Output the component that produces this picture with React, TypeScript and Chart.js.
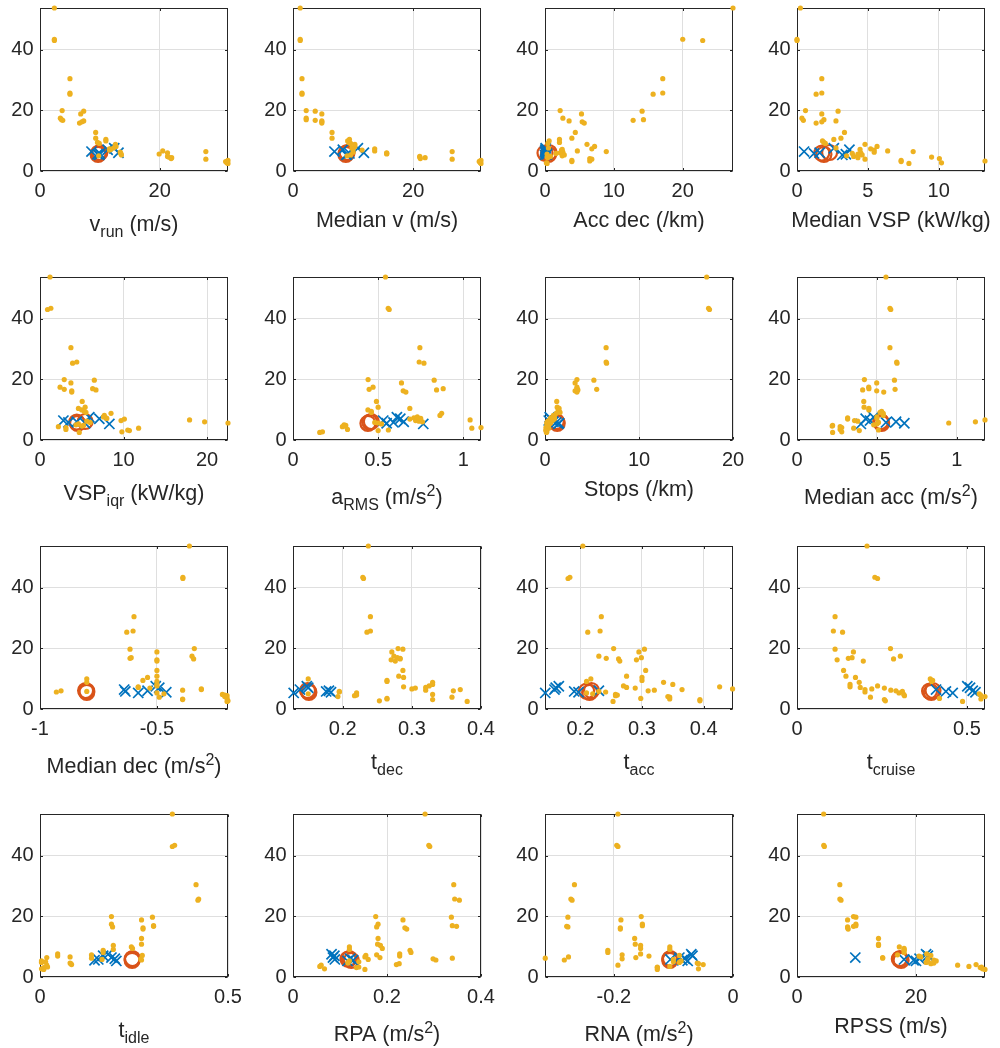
import React, { useEffect, useRef } from "react";
import { Chart, registerables } from "chart.js";
Chart.register(...registerables);

// ---------- data ----------
const Y_ALL = [53.7, 43.4, 43.0, 30.4, 25.7, 25.3, 19.9, 19.7, 18.8, 17.4, 16.7, 16.5, 16.2, 15.8, 12.7, 10.8, 10.4, 9.9, 9.4, 8.8, 8.1, 7.3, 6.9, 6.6, 6.4, 6.2, 6.0, 5.6, 5.3, 4.8, 4.4, 4.1, 3.9, 3.5, 3.1, 2.7, 2.5, 7.6, 5.0, 3.3, 16.9, 9.1, 7.1, 5.8, 4.6];

const X_VRUN = [2.4, 2.4, 2.4, 5.0, 5.0, 5.0, 3.7, 7.3, 6.8, 3.4, 3.8, 7.3, 7.0, 6.6, 9.3, 9.3, 11.0, 11.0, 9.6, 12.6, 12.7, 11.6, 11.6, 20.5, 27.7, 13.4, 21.3, 19.9, 13.6, 21.3, 22.0, 21.9, 27.7, 31.4, 31.0, 31.2, 31.4, 12.3, 9.8, 31.3, 3.6, 9.9, 11.8, 13.5, 21.5];
const X_MEDV = [1.2, 1.2, 1.2, 1.5, 1.5, 1.5, 2.2, 3.7, 4.8, 2.2, 3.7, 4.8, 4.8, 4.8, 6.5, 6.5, 9.4, 9.1, 9.3, 10.3, 10.3, 13.6, 11.5, 13.6, 26.5, 10.0, 15.6, 15.6, 9.6, 21.1, 22.0, 21.2, 26.5, 31.3, 31.0, 31.2, 31.3, 9.8, 9.0, 31.1, 2.2, 9.6, 10.0, 15.6, 21.1];
const X_ACCDEC = [27.3, 20.0, 22.9, 17.1, 17.1, 15.7, 2.2, 14.1, 5.3, 2.6, 12.8, 3.5, 5.4, 5.7, 4.4, 3.9, 2.1, 0.6, 2.1, 6.1, 7.2, 6.8, 2.4, 4.7, 8.9, 2.6, 2.2, 0.3, 2.8, 0.8, 0.4, 6.5, 6.8, 3.9, 3.9, 0.2, 0.3, 0.5, 2.5, 6.5, 14.3, 0.4, 2.5, 1.6, 0.3];
const X_MEDVSP = [0.24, 0.0, 0.0, 1.75, 1.75, 1.35, 0.6, 2.9, 1.75, 0.35, 0.45, 2.75, 1.75, 1.35, 3.35, 3.1, 2.6, 1.8, 1.9, 4.8, 5.65, 5.2, 5.45, 6.4, 8.2, 5.45, 4.5, 4.3, 4.6, 4.0, 4.3, 10.05, 4.8, 7.35, 7.35, 10.2, 7.9, 2.75, 3.5, 13.27, 1.9, 2.0, 4.45, 3.9, 9.5];
const X_VSPIQR = [1.2, 1.3, 0.9, 3.7, 4.4, 3.9, 2.9, 6.5, 3.7, 2.4, 2.9, 6.7, 3.8, 3.8, 5.05, 5.4, 4.6, 5.0, 5.3, 8.5, 7.7, 7.9, 10.1, 17.9, 9.7, 5.6, 19.7, 22.5, 4.6, 5.2, 2.2, 3.1, 11.8, 3.1, 10.7, 9.8, 4.7, 7.6, 4.3, 10.5, 6.3, 5.5, 8.0, 6.0, 5.0];
const X_ARMS = [0.543, 0.559, 0.565, 0.745, 0.741, 0.769, 0.441, 0.829, 0.637, 0.47, 0.447, 0.843, 0.647, 0.663, 0.49, 0.5, 0.686, 0.44, 0.46, 0.873, 0.863, 0.71, 0.686, 1.04, 0.72, 0.74, 0.76, 0.5, 0.52, 0.31, 0.29, 1.104, 1.05, 0.32, 0.5, 0.173, 0.157, 0.73, 0.3, 0.56, 0.882, 0.46, 0.75, 0.48, 0.3];
const X_STOPS = [17.2, 17.4, 17.5, 6.5, 6.5, 6.55, 3.4, 5.2, 3.2, 3.4, 5.5, 3.5, 3.2, 3.4, 1.25, 1.3, 1.5, 1.4, 1.5, 1.2, 0.9, 0.6, 1.0, 0.5, 0.8, 0.3, 0.5, 0.6, 0.2, 0.3, 0.2, 0.1, 0.4, 0.2, 0.1, 0.2, 0.15, 1.0, 0.4, 0.1, 3.4, 1.6, 0.7, 0.2, 0.3];
const X_MEDACC = [0.557, 0.582, 0.587, 0.582, 0.624, 0.626, 0.422, 0.61, 0.499, 0.449, 0.614, 0.411, 0.499, 0.543, 0.418, 0.42, 0.45, 0.45, 0.53, 0.54, 0.54, 0.317, 0.317, 1.177, 0.36, 0.38, 1.117, 0.95, 0.5, 0.223, 0.27, 0.28, 0.355, 0.27, 0.39, 0.28, 0.223, 0.5, 0.48, 0.51, 0.45, 0.52, 0.5, 0.51, 0.22];
const X_MEDDEC = [-0.361, -0.389, -0.389, -0.598, -0.602, -0.629, -0.34, -0.615, -0.5, -0.35, -0.615, -0.343, -0.5, -0.5, -0.5, -0.5, -0.54, -0.8, -0.56, -0.8, -0.5, -0.58, -0.53, -0.31, -0.31, -0.39, -0.91, -0.93, -0.5, -0.22, -0.2, -0.21, -0.49, -0.2, -0.39, -0.196, -0.2, -0.5, -0.47, -0.39, -0.61, -0.5, -0.58, -0.8, -0.21];
const X_TDEC = [0.237, 0.229, 0.23, 0.24, 0.24, 0.235, 0.28, 0.287, 0.271, 0.274, 0.283, 0.283, 0.27, 0.276, 0.287, 0.281, 0.288, 0.15, 0.264, 0.33, 0.33, 0.288, 0.305, 0.3, 0.37, 0.32, 0.36, 0.195, 0.22, 0.33, 0.217, 0.193, 0.358, 0.264, 0.33, 0.253, 0.38, 0.325, 0.15, 0.264, 0.279, 0.264, 0.32, 0.195, 0.22];
const X_TACC = [0.204, 0.183, 0.18, 0.234, 0.232, 0.212, 0.254, 0.304, 0.295, 0.23, 0.242, 0.262, 0.291, 0.264, 0.306, 0.275, 0.3, 0.217, 0.3, 0.335, 0.35, 0.426, 0.289, 0.447, 0.365, 0.32, 0.31, 0.241, 0.21, 0.257, 0.257, 0.342, 0.345, 0.298, 0.394, 0.394, 0.253, 0.27, 0.22, 0.345, 0.299, 0.21, 0.275, 0.23, 0.26];
const X_TCRUISE = [0.206, 0.229, 0.237, 0.112, 0.107, 0.134, 0.275, 0.112, 0.166, 0.304, 0.151, 0.284, 0.118, 0.195, 0.137, 0.144, 0.172, 0.392, 0.399, 0.183, 0.156, 0.156, 0.257, 0.22, 0.2, 0.276, 0.291, 0.2, 0.3, 0.314, 0.316, 0.553, 0.216, 0.419, 0.257, 0.26, 0.487, 0.237, 0.536, 0.541, 0.162, 0.396, 0.186, 0.31, 0.54];
const X_TIDLE = [0.352, 0.358, 0.352, 0.415, 0.422, 0.42, 0.19, 0.299, 0.27, 0.19, 0.302, 0.193, 0.274, 0.274, 0.27, 0.27, 0.195, 0.243, 0.246, 0.168, 0.168, 0.137, 0.047, 0.08, 0.018, 0.137, 0.268, 0.27, 0.004, 0.004, 0.082, 0.084, 0.018, 0.018, 0.01, 0.004, 0.01, 0.047, 0.015, 0.02, 0.302, 0.195, 0.272, 0.165, 0.08];
const X_RPA = [0.281, 0.289, 0.291, 0.342, 0.344, 0.354, 0.176, 0.337, 0.234, 0.181, 0.348, 0.178, 0.238, 0.242, 0.181, 0.18, 0.186, 0.12, 0.19, 0.249, 0.251, 0.178, 0.227, 0.153, 0.185, 0.339, 0.298, 0.304, 0.12, 0.117, 0.226, 0.22, 0.06, 0.057, 0.135, 0.067, 0.153, 0.227, 0.14, 0.14, 0.339, 0.12, 0.155, 0.16, 0.117];
const X_RNA = [-0.193, -0.195, -0.193, -0.266, -0.272, -0.27, -0.154, -0.277, -0.188, -0.152, -0.279, -0.277, -0.189, -0.189, -0.165, -0.164, -0.155, -0.106, -0.155, -0.21, -0.21, -0.186, -0.141, -0.276, -0.163, -0.315, -0.186, -0.283, -0.087, -0.09, -0.058, -0.05, -0.193, -0.106, -0.127, -0.058, -0.127, -0.155, -0.1, -0.127, -0.152, -0.106, -0.09, -0.1, -0.06];
const X_RPSS = [4.48, 4.5, 4.6, 7.2, 7.2, 7.4, 9.5, 9.9, 8.5, 9.9, 9.5, 8.5, 8.5, 8.6, 13.7, 13.7, 13.7, 17.2, 18.0, 18.0, 18.0, 16.9, 20.5, 20.8, 14.4, 14.4, 22.0, 23.0, 23.4, 21.7, 22.5, 30.1, 27.0, 28.9, 30.8, 31.2, 31.6, 21.8, 22.0, 31.0, 9.9, 18.0, 22.5, 22.0, 23.0];

const YELLOW_X = [X_VRUN, X_MEDV, X_ACCDEC, X_MEDVSP, X_VSPIQR, X_ARMS, X_STOPS, X_MEDACC, X_MEDDEC, X_TDEC, X_TACC, X_TCRUISE, X_TIDLE, X_RPA, X_RNA, X_RPSS];

const BLUE_Y = [6.4, 7.5, 5.8, 5.3, 6.0, 7.0, 5.5];
const BLUE_X = [
  [8.6, 12.4, 10.0, 9.9, 13.1, 11.3, 9.6],
  [6.9, 10.8, 9.4, 8.9, 11.8, 8.3, 9.0],
  [0.0, 0.1, 0.2, 0.0, 0.1, 0.05, 0.3],
  [0.5, 2.6, 1.2, 3.2, 1.6, 3.7, 3.45],
  [2.8, 5.9, 3.4, 8.3, 4.4, 7.1, 5.4],
  [0.53, 0.61, 0.59, 0.765, 0.65, 0.63, 0.55],
  [0.4, 0.5, 1.2, 1.4, 0.9, 0.6, 1.5],
  [0.457, 0.48, 0.557, 0.4, 0.62, 0.43, 0.672],
  [-0.64, -0.505, -0.635, -0.58, -0.54, -0.49, -0.46],
  [0.138, 0.148, 0.176, 0.129, 0.18, 0.15, 0.183],
  [0.158, 0.165, 0.19, 0.143, 0.23, 0.16, 0.197],
  [0.409, 0.501, 0.438, 0.458, 0.517, 0.509, 0.525],
  [0.19, 0.181, 0.155, 0.203, 0.199, 0.168, 0.145],
  [0.085, 0.082, 0.089, 0.116, 0.122, 0.088, 0.128],
  [-0.09, -0.07, -0.105, -0.076, -0.081, -0.068, -0.085],
  [9.8, 21.7, 18.0, 20.0, 20.6, 22.0, 19.6],
];

const RED_Y = [5.9, 5.5, 6.1];
const RED_X = [
  [9.8, 9.7, 10.0],
  [8.9, 8.8, 9.0],
  [0.0, 0.5, 0.6],
  [1.75, 1.9, 2.3],
  [4.4, 4.5, 5.4],
  [0.45, 0.44, 0.46],
  [1.25, 1.3, 1.2],
  [0.526, 0.53, 0.525],
  [-0.8, -0.8, -0.805],
  [0.15, 0.151, 0.149],
  [0.21, 0.215, 0.218],
  [0.39, 0.395, 0.4],
  [0.245, 0.245, 0.246],
  [0.117, 0.124, 0.12],
  [-0.106, -0.106, -0.105],
  [17.2, 17.5, 17.3],
];

const X_LABELS = [
  "v_{run} (m/s)", "Median v (m/s)", "Acc dec (/km)", "Median VSP (kW/kg)",
  "VSP_{iqr} (kW/kg)", "a_{RMS} (m/s^{2})", "Stops (/km)", "Median acc (m/s^{2})",
  "Median dec (m/s^{2})", "t_{dec}", "t_{acc}", "t_{cruise}",
  "t_{idle}", "RPA (m/s^{2})", "RNA (m/s^{2})", "RPSS (m/s)",
];
const X_TICKS = [
  [0, 20], [0, 20], [0, 10, 20], [0, 5, 10],
  [0, 10, 20], [0, 0.5, 1], [0, 10, 20], [0, 0.5, 1],
  [-1, -0.5], [0.2, 0.3, 0.4], [0.2, 0.3, 0.4], [0, 0.5],
  [0, 0.5], [0, 0.2, 0.4], [-0.2, 0], [0, 20],
];
const X_MIN = [0, 0, 0, 0, 0, 0, 0, 0, -1, 0.128, 0.1426, 0, 0, 0, -0.3154, 0];
const X_MAX = [31.4, 31.3, 27.3, 13.27, 22.5, 1.104, 20, 1.177, -0.196, 0.4, 0.4477, 0.553, 0.5, 0.4, 0, 31.6];
const Y_TICKS = [0, 20, 40];
const Y_MIN = 0;
const Y_MAX = 53.7;

// ---------- layout / style ----------
const COL_LEFT = [40, 293, 545, 797];
const ROW_TOP = [8, 277, 546, 814];
const AX_W = 188;
const AX_H = 163;
const PAD_L = 40;
const PAD_T = 8;
const CW = 252;
const CH = 246;

const FONT = '"Liberation Sans", Arial, Helvetica, sans-serif';
const TXT = "#262626";
const GRID = "#dfdfdf";
const YEL = "#EDB120";
const BLUE = "#0072BD";
const RED = "#D95319";
const TICK_SIZE = 20;
const LABEL_SIZE = 21.5;
const SCRIPT_SIZE = 16;

function fmt(v: number) {
  return String(Math.round(v * 1000) / 1000);
}

type Seg = { t: string; k: "n" | "sub" | "sup" };
function parseLabel(s: string): Seg[] {
  const parts = s.split(/(_\{[^}]*\}|\^\{[^}]*\})/).filter((p) => p.length);
  return parts.map((p) => {
    if (p.startsWith("_{")) return { t: p.slice(2, -1), k: "sub" } as Seg;
    if (p.startsWith("^{")) return { t: p.slice(2, -1), k: "sup" } as Seg;
    return { t: p, k: "n" } as Seg;
  });
}

const framePlugin = {
  id: "matFrame",
  beforeDatasetsDraw(chart: any) {
    const { ctx, chartArea: a, scales } = chart;
    ctx.save();
    ctx.strokeStyle = TXT;
    ctx.lineWidth = 1;
    const l = Math.round(a.left) + 0.5;
    const r = Math.round(a.right) - 0.5;
    const t = Math.round(a.top) + 0.5;
    const b = Math.round(a.bottom) - 0.5;
    ctx.strokeRect(l, t, r - l, b - t);
    const TL = 2.5;
    ctx.beginPath();
    for (const tk of scales.x.ticks) {
      const p = Math.round(scales.x.getPixelForValue(tk.value)) + 0.5;
      ctx.moveTo(p, b);
      ctx.lineTo(p, b - TL);
      ctx.moveTo(p, t);
      ctx.lineTo(p, t + TL);
    }
    for (const tk of scales.y.ticks) {
      const p = Math.round(scales.y.getPixelForValue(tk.value)) + 0.5;
      ctx.moveTo(l, p);
      ctx.lineTo(l + TL, p);
      ctx.moveTo(r, p);
      ctx.lineTo(r - TL, p);
    }
    ctx.stroke();
    ctx.restore();
  },
};

function makeLabelPlugin(label: string) {
  const segs = parseLabel(label);
  const hasSup = segs.some((s) => s.k === "sup");
  const hasSub = segs.some((s) => s.k === "sub");
  return {
    id: "richXLabel",
    afterDraw(chart: any) {
      const { ctx, chartArea: a } = chart;
      ctx.save();
      ctx.fillStyle = TXT;
      ctx.textBaseline = "alphabetic";
      ctx.textAlign = "left";
      const fontFor = (k: string) => `${k === "n" ? LABEL_SIZE : SCRIPT_SIZE}px ${FONT}`;
      let total = 0;
      const widths = segs.map((s) => {
        ctx.font = fontFor(s.k);
        const w = ctx.measureText(s.t).width;
        total += w;
        return w;
      });
      const base = a.bottom + (hasSup ? 64 : hasSub ? 60 : 56);
      let x = (a.left + a.right) / 2 - total / 2;
      segs.forEach((s, i) => {
        ctx.font = fontFor(s.k);
        const dy = s.k === "sub" ? 6 : s.k === "sup" ? -8.5 : 0;
        ctx.fillText(s.t, x, base + dy);
        x += widths[i];
      });
      ctx.restore();
    },
  };
}

function Panel({ idx }: { idx: number }) {
  const ref = useRef<HTMLCanvasElement | null>(null);
  useEffect(() => {
    if (!ref.current) return;
    const xs = YELLOW_X[idx];
    const ticksX = X_TICKS[idx];
    const chart = new Chart(ref.current, {
      type: "scatter",
      data: {
        datasets: [
          {
            data: xs.map((x, k) => ({ x, y: Y_ALL[k] })),
            pointStyle: "circle",
            pointRadius: 2.6,
            pointBackgroundColor: YEL,
            pointBorderColor: YEL,
            pointBorderWidth: 0,
            clip: false,
          } as any,
          {
            data: BLUE_X[idx].map((x, k) => ({ x, y: BLUE_Y[k] })),
            pointStyle: "crossRot",
            pointRadius: 7.2,
            pointBorderColor: BLUE,
            pointBackgroundColor: BLUE,
            pointBorderWidth: 1.7,
            clip: false,
          } as any,
          {
            data: RED_X[idx].map((x, k) => ({ x, y: RED_Y[k] })),
            pointStyle: "circle",
            pointRadius: 7.5,
            pointBorderColor: RED,
            pointBackgroundColor: "rgba(0,0,0,0)",
            pointBorderWidth: 2.2,
            clip: false,
          } as any,
        ],
      },
      options: {
        animation: false,
        responsive: false,
        devicePixelRatio: 1,
        events: [],
        layout: {
          padding: { left: 0, top: PAD_T, right: CW - PAD_L - AX_W, bottom: 0 },
          autoPadding: false,
        } as any,
        plugins: { legend: { display: false }, tooltip: { enabled: false } },
        scales: {
          x: {
            type: "linear",
            bounds: "data",
            min: X_MIN[idx],
            max: X_MAX[idx],
            afterBuildTicks: (s: any) => {
              s.ticks = ticksX.map((v) => ({ value: v }));
            },
            afterFit: (s: any) => {
              s.height = CH - PAD_T - AX_H;
              s.paddingLeft = 0;
              s.paddingRight = 0;
              s.paddingTop = 0;
              s.paddingBottom = 0;
            },
            ticks: {
              autoSkip: false,
              maxRotation: 0,
              minRotation: 0,
              padding: 8.5,
              color: TXT,
              font: { family: FONT, size: TICK_SIZE },
              callback: (v: any) => fmt(Number(v)),
            },
            grid: { color: GRID, lineWidth: 1, drawTicks: false },
            border: { display: false },
          },
          y: {
            type: "linear",
            bounds: "data",
            min: Y_MIN,
            max: Y_MAX,
            afterBuildTicks: (s: any) => {
              s.ticks = Y_TICKS.map((v) => ({ value: v }));
            },
            afterFit: (s: any) => {
              s.width = PAD_L;
              s.paddingLeft = 0;
              s.paddingRight = 0;
              s.paddingTop = 0;
              s.paddingBottom = 0;
            },
            ticks: {
              autoSkip: false,
              padding: 6.5,
              color: TXT,
              font: { family: FONT, size: TICK_SIZE },
              callback: (v: any) => fmt(Number(v)),
            },
            grid: { color: GRID, lineWidth: 1, drawTicks: false },
            border: { display: false },
          },
        },
      } as any,
      plugins: [framePlugin, makeLabelPlugin(X_LABELS[idx])],
    });
    return () => chart.destroy();
  }, [idx]);

  const col = idx % 4;
  const row = Math.floor(idx / 4);
  return (
    <div
      style={{
        position: "absolute",
        left: COL_LEFT[col] - PAD_L,
        top: ROW_TOP[row] - PAD_T,
        width: CW,
        height: CH,
      }}
    >
      <canvas ref={ref} width={CW} height={CH} style={{ width: CW, height: CH, display: "block" }} />
    </div>
  );
}

export default function App() {
  return (
    <div
      style={{
        position: "absolute",
        left: 0,
        top: 0,
        width: 1000,
        height: 1048,
        overflow: "hidden",
        background: "#ffffff",
      }}
    >
      {X_LABELS.map((_, i) => (
        <Panel key={i} idx={i} />
      ))}
    </div>
  );
}
